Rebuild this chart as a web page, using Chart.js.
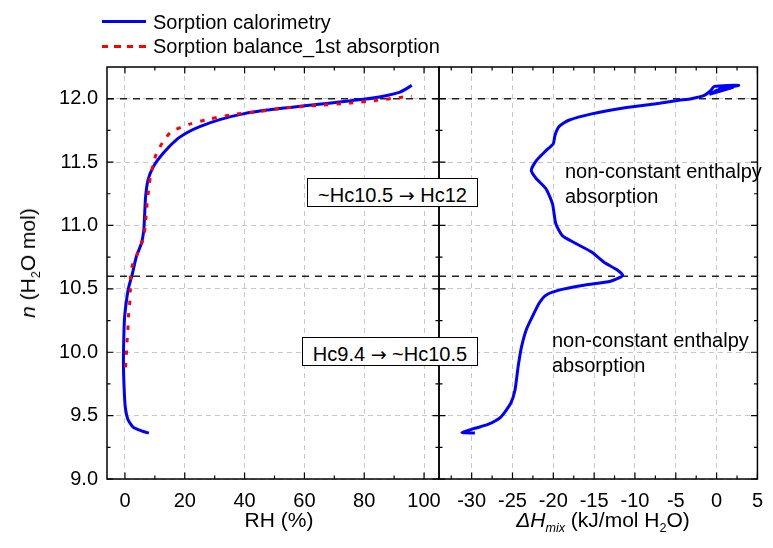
<!DOCTYPE html>
<html>
<head>
<meta charset="utf-8">
<script src="https://cdn.jsdelivr.net/npm/chart.js@4/dist/chart.umd.min.js"></script>
<style>
body{margin:0;background:#fff;font-family:'Liberation Sans',Arial,Helvetica,sans-serif;color:#000;}
#wrap{position:relative;width:773px;height:548px;overflow:hidden;}
canvas{position:absolute;left:0;top:0;}
.txt{position:absolute;white-space:nowrap;font-size:20px;line-height:24px;}
.ttl{position:absolute;white-space:nowrap;font-size:21px;line-height:24px;transform:translate(-50%,-50%);}
.ttl sub{font-size:0.6em;vertical-align:-0.4em;line-height:0;}
.box{position:absolute;background:#fff;border:1px solid #000;box-sizing:border-box;font-size:20px;line-height:21px;padding-top:5.5px;text-align:center;white-space:nowrap;}
.arr{font-family:'DejaVu Sans',sans-serif;font-size:19px;}
.sw{position:absolute;height:3px;width:44px;}
</style>
</head>
<body>
<div id="wrap">
  <canvas id="leftPanel" width="773" height="548"></canvas>
  <canvas id="rightPanel" width="773" height="548"></canvas>

  <div class="sw" style="left:102px;top:20px;background:#0000ff;"></div>
  <div class="txt" style="left:153px;top:10px;">Sorption calorimetry</div>
  <div class="sw" style="left:102px;top:44.5px;background:repeating-linear-gradient(to right,#ff0000 0 6.5px,transparent 6.5px 12.5px);"></div>
  <div class="txt" style="left:153px;top:34px;">Sorption balance_1st absorption</div>

  <div class="box" style="left:307px;top:178px;width:171px;height:28.5px;">~Hc10.5 <span class="arr">&rarr;</span> Hc12</div>
  <div class="box" style="left:302px;top:337px;width:176px;height:28.5px;">Hc9.4 <span class="arr">&rarr;</span> ~Hc10.5</div>

  <div class="txt" style="left:565px;top:159px;line-height:24.5px;">non-constant enthalpy<br>absorption</div>
  <div class="txt" style="left:552px;top:328px;line-height:24.5px;">non-constant enthalpy<br>absorption</div>

  <div class="ttl" style="left:28px;top:263px;transform:translate(-50%,-50%) rotate(-90deg);"><i>n</i> (H<sub>2</sub>O mol)</div>
  <div class="ttl" style="left:279px;top:520px;">RH (%)</div>
  <div class="ttl" style="left:603px;top:520px;"><i>&Delta;H<sub>mix</sub></i> (kJ/mol H<sub>2</sub>O)</div>
</div>

<script>
var FONT="'Liberation Sans', Arial, Helvetica, sans-serif";
var BLUE='#0000ff', RED='#ff0000';

// axes
var N_RANGE=[9,12.25];
var N_TICKS=[9.0,9.5,10.0,10.5,11.0,11.5,12.0];
var RH_RANGE=[-6,105];
var RH_TICKS=[0,20,40,60,80,100];
var DH_RANGE=[-34,5];
var DH_TICKS=[-30,-25,-20,-15,-10,-5,0,5];
var N_LEVELS=[12.0,10.6];

// sorption calorimetry (left)
var RH_CAL=[8.0,5.5,2.7,1.0,0.1,-0.3,-0.5,-0.4,-0.1,0.7,1.3,2.5,3.8,5.5,6.3,6.6,6.9,7.7,9.4,12.7,17.0,21.0,25.0,31.7,39.5,47.4,58.5,69.7,79.7,86.4,92.0,95.9];
var N_CAL=[9.362,9.38,9.41,9.47,9.57,9.73,9.91,10.10,10.28,10.44,10.517,10.62,10.753,10.858,10.963,11.094,11.225,11.357,11.46,11.567,11.672,11.735,11.78,11.835,11.88,11.91,11.94,11.968,11.995,12.02,12.052,12.105];

// sorption balance, 1st absorption (left)
var RH_BAL=[0.2,0.5,0.7,1.0,1.2,1.6,1.8,1.9,2.5,4.2,6.0,6.7,7.4,7.9,8.5,9.4,10.5,12.7,15.5,21.7,28.4,36.2,45.1,52.9,64.1,75.3,84.2,92.0,95.9];
var N_BAL=[9.88,9.99,10.09,10.19,10.29,10.39,10.49,10.595,10.687,10.78,10.884,10.976,11.173,11.278,11.383,11.475,11.567,11.658,11.74,11.80,11.84,11.876,11.90,11.926,11.947,11.965,11.987,12.01,12.02];

// mixing enthalpy (right)
var DH_MIX=[-29.6,-31.2,-29.6,-28.0,-26.4,-25.2,-24.7,-24.3,-23.9,-23.3,-22.5,-21.7,-20.9,-19.3,-16.1,-13.0,-11.5,-12.2,-13.8,-15.3,-17.3,-18.9,-19.7,-20.1,-20.9,-22.1,-22.7,-22.1,-20.9,-20.0,-19.8,-19.3,-18.1,-15.3,-11.4,-7.4,-4.6,-3.1,-1.5,-0.7,-0.3,2.7,0.3,2.2,-0.2,1.5,-0.6,2.0,-0.9];
var N_MIX=[9.362,9.367,9.40,9.43,9.49,9.60,9.70,9.89,10.04,10.18,10.29,10.39,10.45,10.49,10.53,10.56,10.605,10.65,10.71,10.79,10.86,10.92,11.016,11.17,11.29,11.37,11.435,11.51,11.59,11.645,11.71,11.78,11.83,11.88,11.926,11.96,11.987,12.0,12.026,12.065,12.097,12.105,12.075,12.1,12.06,12.095,12.045,12.09,12.035];

function pts(xs,ys){
  return xs.map(function(x,i){return {x:x,y:ys[i]};});
}

function levelSets(range){
  return N_LEVELS.map(function(l){
    return {data:[{x:range[0],y:l},{x:range[1],y:l}],showLine:true,borderColor:'#222',
      borderWidth:1.5,borderDash:[7,6],pointRadius:0,tension:0,order:3};
  });
}

function inList(v,arr){
  for(var i=0;i<arr.length;i++){if(Math.abs(arr[i]-v)<1e-9) return true;}
  return false;
}

// frame box + inward major/minor ticks on all four sides
var frameTicks={
  id:'frameTicks',
  afterDraw:function(chart,args,opts){
    var ctx=chart.ctx,a=chart.chartArea,xs=chart.scales.x,ys=chart.scales.y;
    var xMaj=xs.ticks.map(function(t){return t.value;});
    var yMaj=ys.ticks.map(function(t){return t.value;});
    ctx.save();
    ctx.strokeStyle='#000';
    ctx.lineWidth=1.2;
    ctx.beginPath();
    function xMark(v,len){
      var p=xs.getPixelForValue(v);
      ctx.moveTo(p,a.bottom);ctx.lineTo(p,a.bottom-len);
      ctx.moveTo(p,a.top);ctx.lineTo(p,a.top+len);
    }
    function yMark(v,len){
      var p=ys.getPixelForValue(v);
      ctx.moveTo(a.left,p);ctx.lineTo(a.left+len,p);
      ctx.moveTo(a.right,p);ctx.lineTo(a.right-len,p);
    }
    xMaj.forEach(function(v){xMark(v,6.5);});
    yMaj.forEach(function(v){yMark(v,6.5);});
    var v;
    for(v=Math.ceil(xs.min/opts.xMinor)*opts.xMinor;v<=xs.max+1e-9;v+=opts.xMinor){
      if(!inList(v,xMaj)) xMark(v,3.5);
    }
    for(v=Math.ceil(ys.min/opts.yMinor)*opts.yMinor;v<ys.max-1e-9;v+=opts.yMinor){
      if(!inList(v,yMaj)) yMark(v,3.5);
    }
    ctx.stroke();
    ctx.lineWidth=1.5;
    ctx.strokeRect(a.left,a.top,a.right-a.left,a.bottom-a.top);
    ctx.restore();
  }
};

function makePanel(id,xRange,xTicks,xMinor,series,pad,showY){
  return new Chart(document.getElementById(id),{
    type:'scatter',
    data:{datasets:series.concat(levelSets(xRange))},
    options:{
      responsive:false,
      animation:false,
      devicePixelRatio:1,
      layout:{padding:pad},
      plugins:{legend:{display:false},tooltip:{enabled:false},frameTicks:{xMinor:xMinor,yMinor:0.25}},
      scales:{
        x:{
          type:'linear',min:xRange[0],max:xRange[1],
          afterBuildTicks:function(s){s.ticks=xTicks.map(function(v){return {value:v};});},
          afterFit:function(s){s.height=69;},
          grid:{color:'#c8c8c8',lineWidth:1,drawTicks:false},
          border:{display:false,dash:[5,4]},
          ticks:{color:'#000',padding:10,maxRotation:0,autoSkip:false,font:{family:FONT,size:20},
            callback:function(v){return String(v);}}
        },
        y:{
          type:'linear',min:N_RANGE[0],max:N_RANGE[1],
          afterBuildTicks:function(s){s.ticks=N_TICKS.map(function(v){return {value:v};});},
          afterFit:function(s){s.width=showY?107:0;},
          grid:{color:'#c8c8c8',lineWidth:1,drawTicks:false},
          border:{display:false,dash:[5,4]},
          ticks:{display:showY,color:'#000',padding:9,autoSkip:false,font:{family:FONT,size:20},
            callback:function(v){return v.toFixed(1);}}
        }
      }
    },
    plugins:[frameTicks]
  });
}

makePanel('leftPanel',RH_RANGE,RH_TICKS,10,[
  {data:pts(RH_BAL,N_BAL),showLine:true,borderColor:RED,borderWidth:3,borderDash:[4.5,8],pointRadius:0,tension:0.2,order:1},
  {data:pts(RH_CAL,N_CAL),showLine:true,borderColor:BLUE,borderWidth:3,pointRadius:0,tension:0.2,order:2}
],{left:0,top:67,right:334,bottom:0},true);

makePanel('rightPanel',DH_RANGE,DH_TICKS,2.5,[
  {data:pts(DH_MIX,N_MIX),showLine:true,borderColor:BLUE,borderWidth:3,pointRadius:0,tension:0.2,order:2}
],{left:439,top:67,right:6,bottom:0},false);
</script>
</body>
</html>
